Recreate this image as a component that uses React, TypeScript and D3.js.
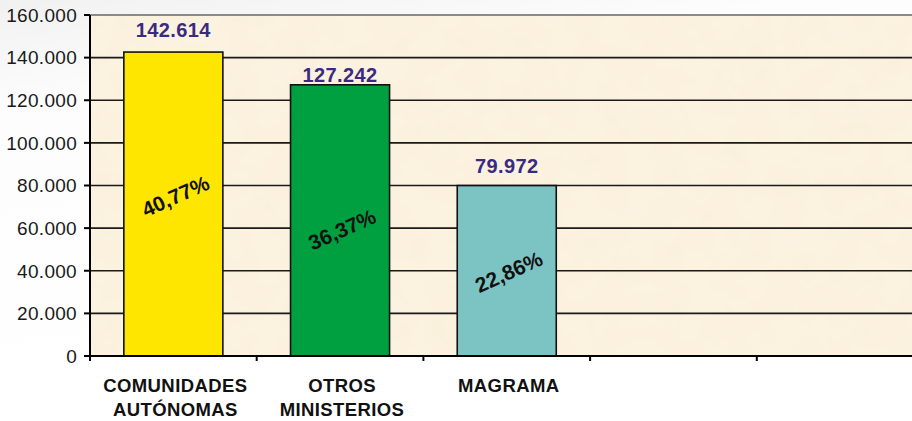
import React from 'react'
import * as d3 from 'd3'

// data
const categories = ['COMUNIDADES AUTÓNOMAS', 'OTROS MINISTERIOS', 'MAGRAMA', '', ' ']
const categoryLines = [['COMUNIDADES', 'AUTÓNOMAS'], ['OTROS', 'MINISTERIOS'], ['MAGRAMA'], [], []]
const values = [142614, 127242, 79972]
const barColors = ['#FFE600', '#00A040', '#7CC4C4']
const yTicks = [0, 20000, 40000, 60000, 80000, 100000, 120000, 140000, 160000]

// label nudges (px), the original had hand placed labels
const valueGap = [15, 3, 13]
const pctShift = [-8, 9, 1]

const es = d3.formatLocale({ decimal: ',', thousands: '.', grouping: [3], currency: ['', ' €'] })
const fmtNum = es.format(',')
const fmtPct = es.format('.2%')

const W = 912
const H = 421
const FONT = "'Liberation Sans', Arial, sans-serif"

export default function App() {
  const margin = { top: 15, left: 90, bottom: 65 }
  const y = d3.scaleLinear().domain([0, 160000]).range([H - margin.bottom, margin.top])
  const x = d3.scaleBand<string>().domain(categories).range([margin.left, 923.5])
    .paddingInner(0.406).paddingOuter(0.203)
  const step = x.step()
  const total = d3.sum(values)
  const y0 = y(0)
  const mid = (c: string) => x(c)! + x.bandwidth() / 2

  return (
    <div style={{ position: 'fixed', left: 0, top: 0 }}>
      <svg width={W} height={H} style={{ display: 'block' }}>
        <defs>
          <linearGradient id="page" x1="0" y1="0" x2="0.3" y2="1">
            <stop offset="0" stopColor="#f1f1f1" />
            <stop offset="0.25" stopColor="#fdfdfd" />
            <stop offset="1" stopColor="#ffffff" />
          </linearGradient>
          <filter id="paper" x="0" y="0" width="100%" height="100%">
            <feTurbulence type="fractalNoise" baseFrequency="0.035" numOctaves="3" seed="4" />
            <feColorMatrix type="matrix" values="0 0 0 0 1  0 0 0 0 0.95  0 0 0 0 0.86  0 0 0 0.3 0" />
          </filter>
        </defs>
        <rect width={W} height={H} fill="url(#page)" />
        {/* plot area */}
        <rect x={margin.left} y={margin.top} width={W - margin.left} height={y0 - margin.top} fill="#FAF0DC" />
        <rect x={margin.left} y={margin.top} width={W - margin.left} height={y0 - margin.top} filter="url(#paper)" />

        {/* grid lines */}
        {yTicks.filter(t => t > 0).map(t => (
          <line key={t} x1={margin.left} x2={W} y1={y(t)} y2={y(t)}
            stroke={t === 160000 ? '#8a8a8a' : '#1a1a1a'} strokeWidth={t === 160000 ? 2 : 1.6} />
        ))}

        {/* bars */}
        {values.map((v, i) => (
          <rect key={i} x={x(categories[i])} y={y(v)} width={x.bandwidth()} height={y0 - y(v)}
            fill={barColors[i]} stroke="#111" strokeWidth={1.6} />
        ))}

        {/* axes */}
        <line x1={margin.left} x2={margin.left} y1={margin.top} y2={y0 + 5} stroke="#000" strokeWidth={2} />
        <line x1={margin.left} x2={W} y1={y0} y2={y0} stroke="#000" strokeWidth={2} />
        {yTicks.map(t => (
          <g key={t}>
            <line x1={margin.left - 6} x2={margin.left} y1={y(t)} y2={y(t)} stroke="#000" strokeWidth={2} />
            <text x={77} y={y(t)} dy="0.36em" textAnchor="end" fontFamily={FONT} fontSize={19}
              letterSpacing={0.3} fill="#1a1a1a">{fmtNum(t)}</text>
          </g>
        ))}
        {categories.map((c, i) => (
          <line key={i} x1={margin.left + step * (i + 1)} x2={margin.left + step * (i + 1)}
            y1={y0} y2={y0 + 5} stroke="#000" strokeWidth={2} />
        ))}

        {/* category labels */}
        {categoryLines.map((lines, i) => (
          <text key={i} x={mid(categories[i]) + 2} y={392} textAnchor="middle"
            fontFamily={FONT} fontSize={18.5} fontWeight="bold" letterSpacing={0.4} fill="#111">
            {lines.map((l, j) => (
              <tspan key={j} x={mid(categories[i]) + 2} dy={j === 0 ? 0 : 24}>{l}</tspan>
            ))}
          </text>
        ))}

        {/* value labels */}
        {values.map((v, i) => (
          <text key={i} x={mid(categories[i])} y={y(v) - valueGap[i]} textAnchor="middle"
            fontFamily={FONT} fontSize={20} fontWeight="bold" letterSpacing={0.4} fill="#3A2B80">
            {fmtNum(v)}
          </text>
        ))}

        {/* percentage labels */}
        {values.map((v, i) => {
          const cx = mid(categories[i]) + 2
          const cy = (y(v) + y0) / 2 + pctShift[i]
          return (
            <text key={i} transform={`translate(${cx},${cy}) rotate(-24)`} textAnchor="middle" dy="0.36em"
              fontFamily={FONT} fontSize={21} fontWeight="bold" fill="#111">
              {fmtPct(v / total)}
            </text>
          )
        })}
      </svg>
    </div>
  )
}
